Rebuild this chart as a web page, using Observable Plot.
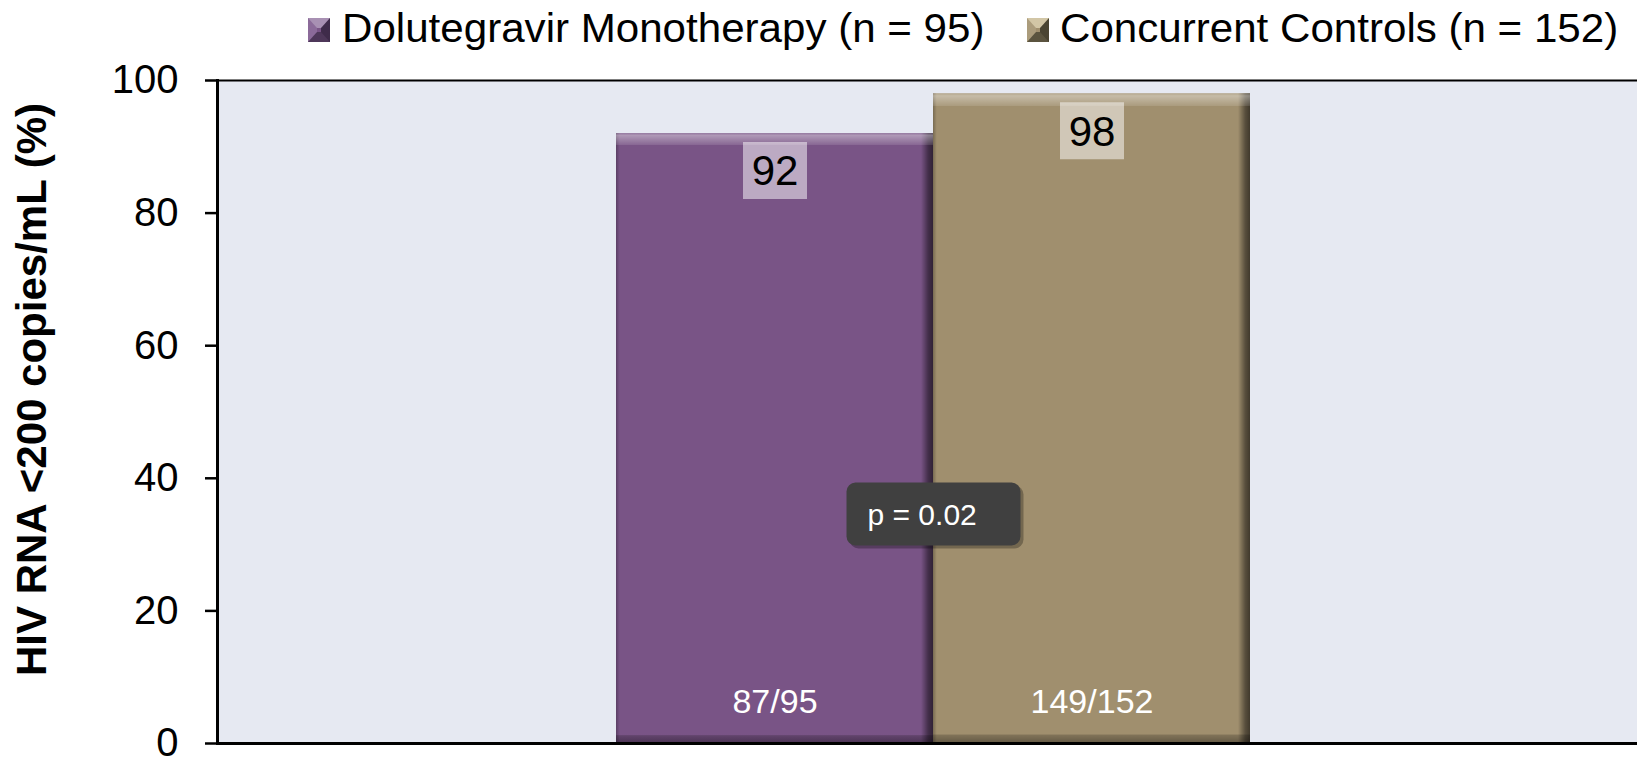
<!DOCTYPE html>
<html>
<head>
<meta charset="utf-8">
<script src="https://cdn.jsdelivr.net/npm/d3@7"></script>
<script src="https://cdn.jsdelivr.net/npm/@observablehq/plot@0.6"></script>
<style>
  body { margin: 0; background: #ffffff; }
  #wrap { width: 1637px; font-family: "Liberation Sans", Arial, sans-serif; }
  #legend { position: relative; width: 1637px; height: 60px; }
  .sw { position: absolute; width: 4px; height: 4px; border-style: solid; border-width: 10px 9px; }
  .lt { position: absolute; font-size: 41px; line-height: 1; white-space: nowrap; color: #000;
        transform: scaleX(1.027); transform-origin: left center; }
</style>
</head>
<body>
<div id="wrap">
  <div id="legend"></div>
  <div id="chart"></div>
</div>
<script>
// ---- data ----
const groups = ["Dolutegravir Monotherapy (n = 95)", "Concurrent Controls (n = 152)"];
const values = [92, 98];
const fractions = ["87/95", "149/152"];
const colors = ["#795486", "#a08f6e"];
const yTicks = [0, 20, 40, 60, 80, 100];
const yLabel = "HIV RNA <200 copies/mL (%)";
const pLabel = "p = 0.02";

const data = groups.map((g, i) => ({group: g, value: values[i], frac: fractions[i], color: colors[i]}));

// ---- legend (HTML) ----
const legendItems = [
  {text: groups[0], sq: 308, tx: 342, border: ["#a890b3", "#3f2b4a", "#4e3759", "#8b6a99"], fill: colors[0]},
  {text: groups[1], sq: 1027, tx: 1060, border: ["#d2c6a6", "#4a4432", "#5b543f", "#ab9c7c"], fill: colors[1]}
];
const legend = document.getElementById("legend");
for (const it of legendItems) {
  const s = document.createElement("div");
  s.className = "sw";
  s.style.left = it.sq + "px";
  s.style.top = "18px";
  s.style.background = it.fill;
  s.style.borderColor = it.border.join(" ");
  legend.appendChild(s);
  const t = document.createElement("div");
  t.className = "lt";
  t.style.left = it.tx + "px";
  t.style.top = "8px";
  t.textContent = it.text;
  legend.appendChild(t);
}

// ---- symbols ----
const labelBox = {draw(ctx) { ctx.rect(-32, -28.5, 64, 57); }};
function roundRect(w, h, r) {
  return {draw(ctx) {
    const x0 = -w / 2, y0 = -h / 2, x1 = w / 2, y1 = h / 2;
    ctx.moveTo(x0 + r, y0);
    ctx.lineTo(x1 - r, y0); ctx.arcTo(x1, y0, x1, y0 + r, r);
    ctx.lineTo(x1, y1 - r); ctx.arcTo(x1, y1, x1 - r, y1, r);
    ctx.lineTo(x0 + r, y1); ctx.arcTo(x0, y1, x0, y1 - r, r);
    ctx.lineTo(x0, y0 + r); ctx.arcTo(x0, y0, x0 + r, y0, r);
    ctx.closePath();
  }};
}
const pBox = roundRect(174, 63, 9);

const chart = Plot.plot({
  width: 1637,
  height: 697,
  marginTop: 20,
  marginBottom: 14,
  marginLeft: 217,
  marginRight: 0,
  style: {fontFamily: "'Liberation Sans', Arial, sans-serif", color: "#000", background: "transparent", overflow: "visible"},
  x: {domain: groups, type: "band", paddingInner: 0, paddingOuter: 1.236, align: 0.507, axis: null},
  y: {domain: [0, 100], axis: null},
  marks: [
    Plot.frame({fill: "#e6e9f2", stroke: null}),
    Plot.axisY({ticks: yTicks, tickSize: 12, tickPadding: 27, fontSize: 40, strokeWidth: 2.5, stroke: "#000", fill: "#000", label: null, tickFormat: d => String(d)}),
    Plot.barY(data, {x: "group", y: "value", fill: "color"}),
    Plot.barY(data, {x: "group", y: "value", fill: "url(#hgrad)"}),
    Plot.barY(data, {x: "group", y: "value", fill: "url(#vgrad)"}),
    Plot.dot(data, {x: "group", y: "value", dy: 37, symbol: labelBox, fill: "#ffffff", fillOpacity: 0.5, stroke: null}),
    Plot.text(data, {x: "group", y: "value", dy: 38.5, text: d => String(d.value), fontSize: 42, fill: "#000", lineAnchor: "middle"}),
    Plot.text(data, {x: "group", y: 0, dy: -41, text: "frac", fontSize: 34, fill: "#ffffff", lineAnchor: "middle"}),
    Plot.dot([pLabel], {frameAnchor: "middle", dx: 9, dy: 105, symbol: pBox, fill: "#000", fillOpacity: 0.28, stroke: null}),
    Plot.dot([pLabel], {frameAnchor: "middle", dx: 6, dy: 102, symbol: pBox, fill: "#404040", stroke: null}),
    Plot.text([pLabel], {frameAnchor: "middle", dx: -60, dy: 103.5, text: d => d, fontSize: 30, fill: "#ffffff", textAnchor: "start", lineAnchor: "middle"}),
    Plot.ruleY([100], {stroke: "#000", strokeWidth: 2}),
    Plot.ruleY([0], {stroke: "#000", strokeWidth: 3}),
    Plot.frame({anchor: "left", stroke: "#000", strokeWidth: 3}),
    Plot.text([yLabel], {frameAnchor: "left", dx: -185, dy: -22.5, rotate: -90, text: d => d, fontSize: 42, fontWeight: "bold", fill: "#000", textAnchor: "middle", lineAnchor: "middle"})
  ]
});

// gradient definitions for the bevelled bar look
const defs = d3.select(chart).insert("defs", ":first-child");
const hg = defs.append("linearGradient").attr("id", "hgrad").attr("x1", 0).attr("x2", 1).attr("y1", 0).attr("y2", 0);
[[0, "#000", 0.25], [0.012, "#000", 0], [0.962, "#000", 0], [0.985, "#000", 0.45], [1, "#000", 0.6]]
  .forEach(([o, c, a]) => hg.append("stop").attr("offset", o).attr("stop-color", c).attr("stop-opacity", a));
const vg = defs.append("linearGradient").attr("id", "vgrad").attr("x1", 0).attr("x2", 0).attr("y1", 0).attr("y2", 1);
[[0, "#fff", 0.2], [0.004, "#fff", 0.4], [0.012, "#fff", 0.25], [0.019, "#fff", 0.12], [0.02, "#fff", 0],
 [0.986, "#000", 0], [0.988, "#000", 0.2], [1, "#000", 0.38]]
  .forEach(([o, c, a]) => vg.append("stop").attr("offset", o).attr("stop-color", c).attr("stop-opacity", a));

document.getElementById("chart").appendChild(chart);
</script>
</body>
</html>
